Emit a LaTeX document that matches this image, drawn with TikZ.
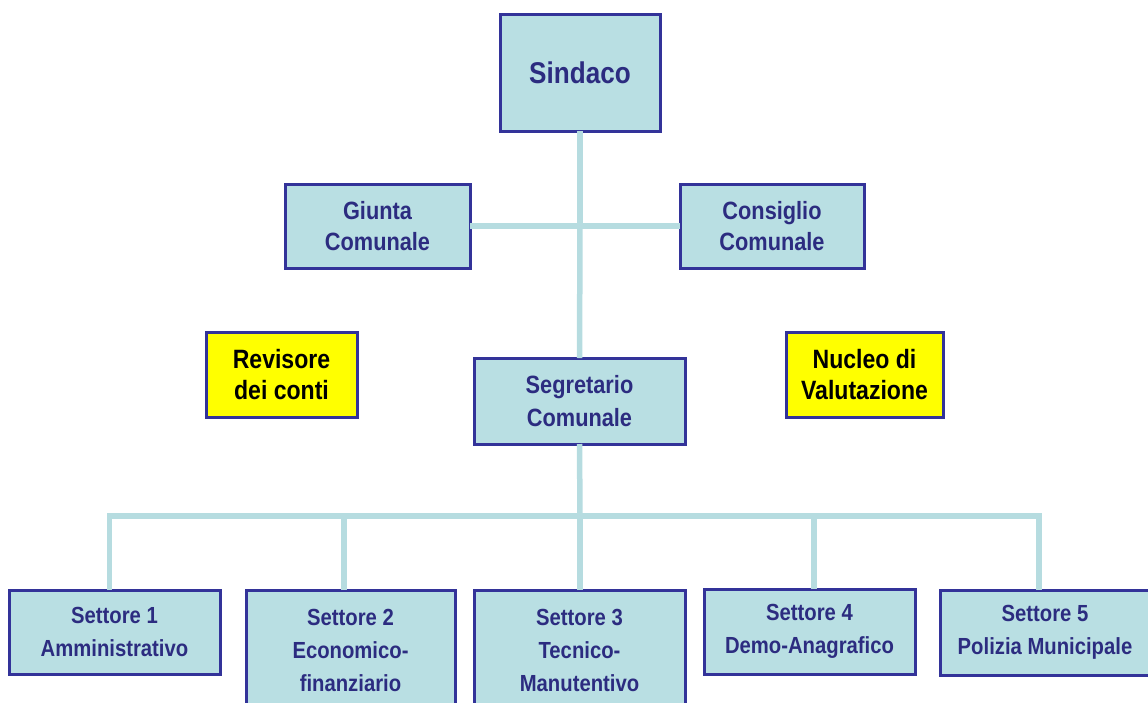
\documentclass[tikz,border=0pt]{standalone}
\usepackage{fontspec}
\newfontfamily\lab{Liberation Sans}[FakeStretch=0.87]
\definecolor{boxfill}{HTML}{B9DFE3}
\definecolor{boxline}{HTML}{333399}
\definecolor{txt}{HTML}{2C2C80}
\definecolor{conn}{HTML}{B6DCE0}
\definecolor{yel}{HTML}{FFFF00}
\tikzset{
  orgbox/.style={draw=boxline, line width=3pt, fill=boxfill, text=txt, align=center,
     inner sep=0pt, outer sep=0pt, font=\lab\bfseries\fontsize{25}{31}\selectfont},
  setbox/.style={orgbox, font=\lab\bfseries\fontsize{23.3}{33}\selectfont},
  yelbox/.style={orgbox, fill=yel, text=black, font=\lab\bfseries\fontsize{26.5}{31}\selectfont},
  conline/.style={draw=conn, line width=5.5pt}
}
\begin{document}
\begin{tikzpicture}[x=1pt,y=-1pt]
\useasboundingbox (0,0) rectangle (1148,702);
\node[orgbox, minimum width=160pt, minimum height=117pt, font=\lab\bfseries\fontsize{30}{36}\selectfont] (sind) at (580,72.5) {Sindaco};
\node[orgbox, minimum width=185pt, minimum height=84pt] (giunta) at (377.5,226) {Giunta\\Comunale};
\node[orgbox, minimum width=184pt, minimum height=84pt] (cons) at (772,226) {Consiglio\\Comunale};
\node[yelbox, minimum width=151pt, minimum height=85pt] (rev) at (281.5,374.5) {Revisore\\dei conti};
\node[yelbox, minimum width=157pt, minimum height=85pt] (nuc) at (864.5,374.5) {Nucleo di\\Valutazione};
\node[orgbox, minimum width=211pt, minimum height=86pt, font=\lab\bfseries\fontsize{25}{33}\selectfont] (seg) at (579.5,401) {Segretario\\Comunale};
\node[setbox, minimum width=211pt, minimum height=84pt] (s1) at (114.5,632) {Settore 1\\Amministrativo};
\node[setbox, minimum width=209pt, minimum height=120pt] (s2) at (350.5,650) {Settore 2\\Economico-\\finanziario};
\node[setbox, minimum width=211pt, minimum height=120pt] (s3) at (579.5,650) {Settore 3\\Tecnico-\\Manutentivo};
\node[setbox, minimum width=211pt, minimum height=85pt] (s4) at (809.5,631.5) {Settore 4\\Demo-Anagrafico};
\node[setbox, minimum width=210pt, minimum height=85pt] (s5) at (1045,632.5) {Settore 5\\Polizia Municipale};
\coordinate (bus) at (580,516);
\draw[conline] (sind.south) -- (giunta.east -| sind.south);
\draw[conline] (giunta.east -| sind.south) -- (seg.north);
\draw[conline] (giunta.east) -- (cons.west);
\draw[conline] (seg.south) -- (bus);
\draw[conline] ([xshift=-5pt]s1.north) |- (bus);
\draw[conline] ([xshift=-6pt]s5.north) |- (bus);
\draw[conline] ([xshift=-6.5pt]s2.north) -- ([xshift=-6.5pt]s2.north |- bus);
\draw[conline] ([xshift=0.5pt]s3.north) -- ([xshift=0.5pt]s3.north |- bus);
\draw[conline] ([xshift=4.5pt]s4.north) -- ([xshift=4.5pt]s4.north |- bus);
\end{tikzpicture}
\end{document}
